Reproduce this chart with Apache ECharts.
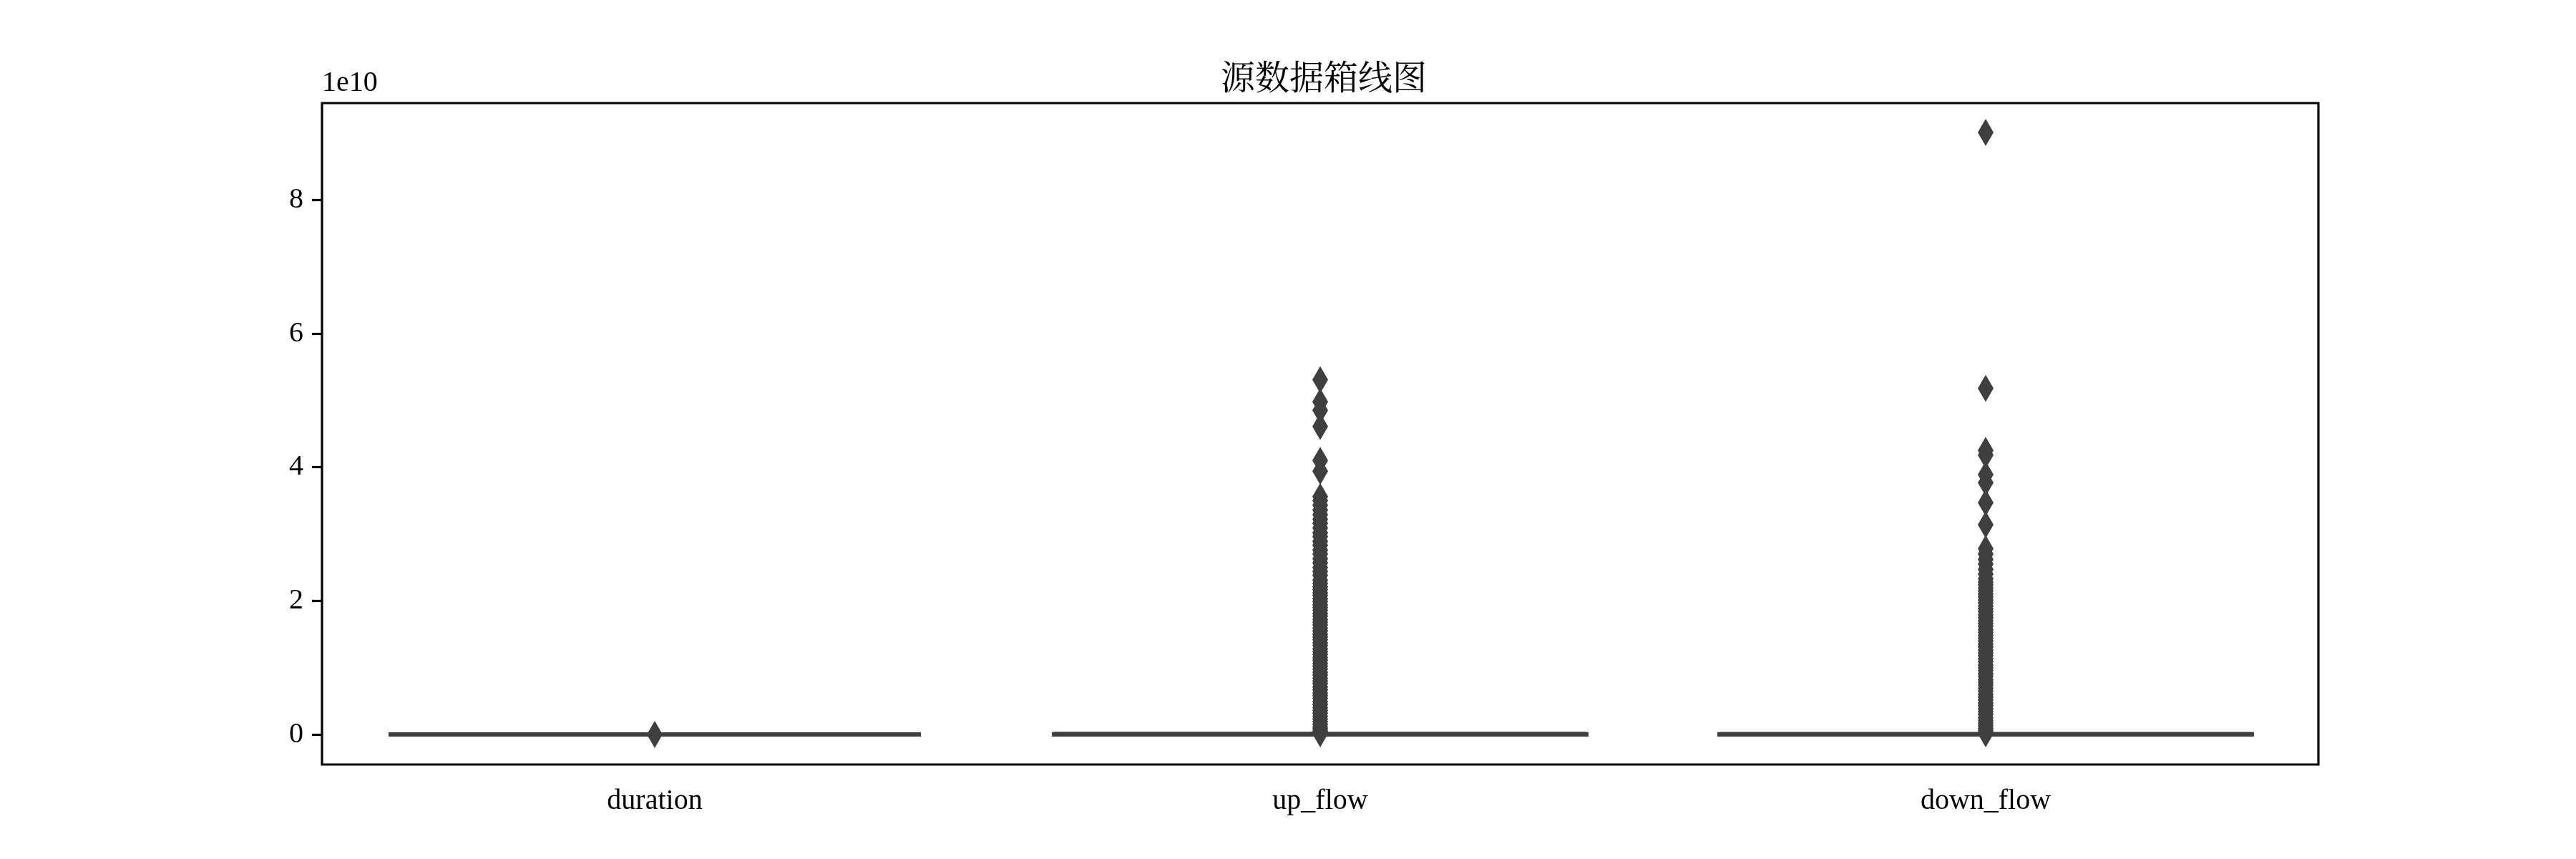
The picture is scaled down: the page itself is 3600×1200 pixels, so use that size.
<!DOCTYPE html>
<html>
<head>
<meta charset="utf-8">
<script src="https://cdn.jsdelivr.net/npm/echarts@6/dist/echarts.min.js"></script>
<style>
html,body{margin:0;padding:0;background:#fff;}
#chart{width:3600px;height:1200px;}
</style>
</head>
<body>
<div id="chart"></div>
<script>
// Values in units of 1e10 (the axis offset text reads "1e10")
const categories = ['duration', 'up_flow', 'down_flow'];
const yTicks = [0, 2, 4, 6, 8];

// Box statistics [min, Q1, median, Q3, max] — all collapse near 0 at this scale
const boxDuration = [0, 0, 0, 0, 0.0005];
const boxUpFlow   = [0, 0.0005, 0.001, 0.002, 0.009];
const boxDownFlow = [0, 0.0005, 0.001, 0.002, 0.006];

// Outliers (units of 1e10)
const outDuration = [0.001];
const outUpFlow = [
  5.31, 4.98, 4.85, 4.61, 4.10, 3.94,
  3.56, 3.50, 3.43, 3.36, 3.29, 3.22, 3.16, 3.09, 3.02, 2.96, 2.89, 2.83,
  2.76, 2.70, 2.63, 2.57, 2.50, 2.44, 2.38, 2.31,
  2.26, 2.21, 2.17, 2.12, 2.08, 2.03, 1.99, 1.94, 1.90, 1.86, 1.81, 1.77,
  1.72, 1.68, 1.64, 1.59, 1.55, 1.50, 1.46, 1.42, 1.37, 1.33, 1.28, 1.24,
  1.20, 1.15, 1.11, 1.06, 1.02, 0.98, 0.93, 0.89, 0.84, 0.80, 0.76, 0.71,
  0.67, 0.62, 0.58, 0.54, 0.49, 0.45, 0.40, 0.36, 0.32, 0.27, 0.23, 0.19,
  0.15, 0.11, 0.08, 0.05, 0.03, 0.01
];
const outDownFlow = [
  9.01, 5.18,
  4.25, 4.18, 3.89, 3.77, 3.47, 3.14,
  2.78, 2.70, 2.62, 2.55, 2.47, 2.40,
  2.33, 2.28, 2.24, 2.19, 2.15, 2.10, 2.06, 2.01, 1.97, 1.92, 1.88, 1.84,
  1.79, 1.75, 1.70, 1.66, 1.62, 1.57, 1.53, 1.48, 1.44, 1.40, 1.35, 1.31,
  1.26, 1.22, 1.18, 1.13, 1.09, 1.04, 1.00, 0.96, 0.91, 0.87, 0.82, 0.78,
  0.74, 0.69, 0.65, 0.60, 0.56, 0.52, 0.47, 0.43, 0.38, 0.34, 0.30, 0.25,
  0.21, 0.17, 0.13, 0.09, 0.06, 0.03, 0.01
];

const boxData = [boxDuration, boxUpFlow, boxDownFlow];
const outliers = [];
[outDuration, outUpFlow, outDownFlow].forEach((arr, i) => {
  arr.forEach(v => outliers.push([i, v]));
});

const SERIF = '"Liberation Serif", "DejaVu Serif", serif';
const DARK = '#3f3f3f';

const chart = echarts.init(document.getElementById('chart'), null, {renderer: 'canvas'});
chart.setOption({
  animation: false,
  backgroundColor: '#ffffff',
  title: {
    text: '源数据箱线图',
    left: 1845,
    textAlign: 'center',
    top: 78,
    textStyle: {
      fontFamily: '"Noto Serif CJK SC", "Noto Sans CJK SC", serif',
      fontSize: 48,
      fontWeight: 'normal',
      color: '#000'
    }
  },
  grid: {
    left: 450, right: 360, top: 144, bottom: 132,
    show: true, borderColor: '#000', borderWidth: 3.2,
    backgroundColor: 'transparent'
  },
  xAxis: {
    type: 'category',
    data: categories,
    boundaryGap: true,
    axisLine: {show: false},
    axisTick: {show: true, alignWithLabel: true, length: 14, lineStyle: {color: '#000', width: 3.2}},
    axisLabel: {fontFamily: SERIF, fontSize: 40, color: '#000', margin: 31},
    splitLine: {show: false}
  },
  yAxis: {
    type: 'value',
    min: -0.45,
    max: 9.45,
    name: '1e10',
    nameLocation: 'end',
    nameGap: 8,
    nameTextStyle: {fontFamily: SERIF, fontSize: 40, color: '#000', align: 'left', verticalAlign: 'bottom'},
    axisLine: {show: false},
    axisTick: {show: true, length: 14, customValues: yTicks, lineStyle: {color: '#000', width: 3.2}},
    axisLabel: {fontFamily: SERIF, fontSize: 40, color: '#000', margin: 26, customValues: yTicks,
      formatter: v => String(Math.round(v))},
    splitLine: {show: false}
  },
  series: [
    {
      type: 'boxplot',
      data: boxData,
      boxWidth: ['80%', '80%'],
      itemStyle: {color: DARK, borderColor: DARK, borderWidth: 6},
      z: 2
    },
    {
      type: 'scatter',
      data: outliers,
      symbol: 'diamond',
      symbolSize: [22, 38],
      itemStyle: {color: DARK, opacity: 1},
      z: 3
    }
  ]
});
</script>
</body>
</html>
